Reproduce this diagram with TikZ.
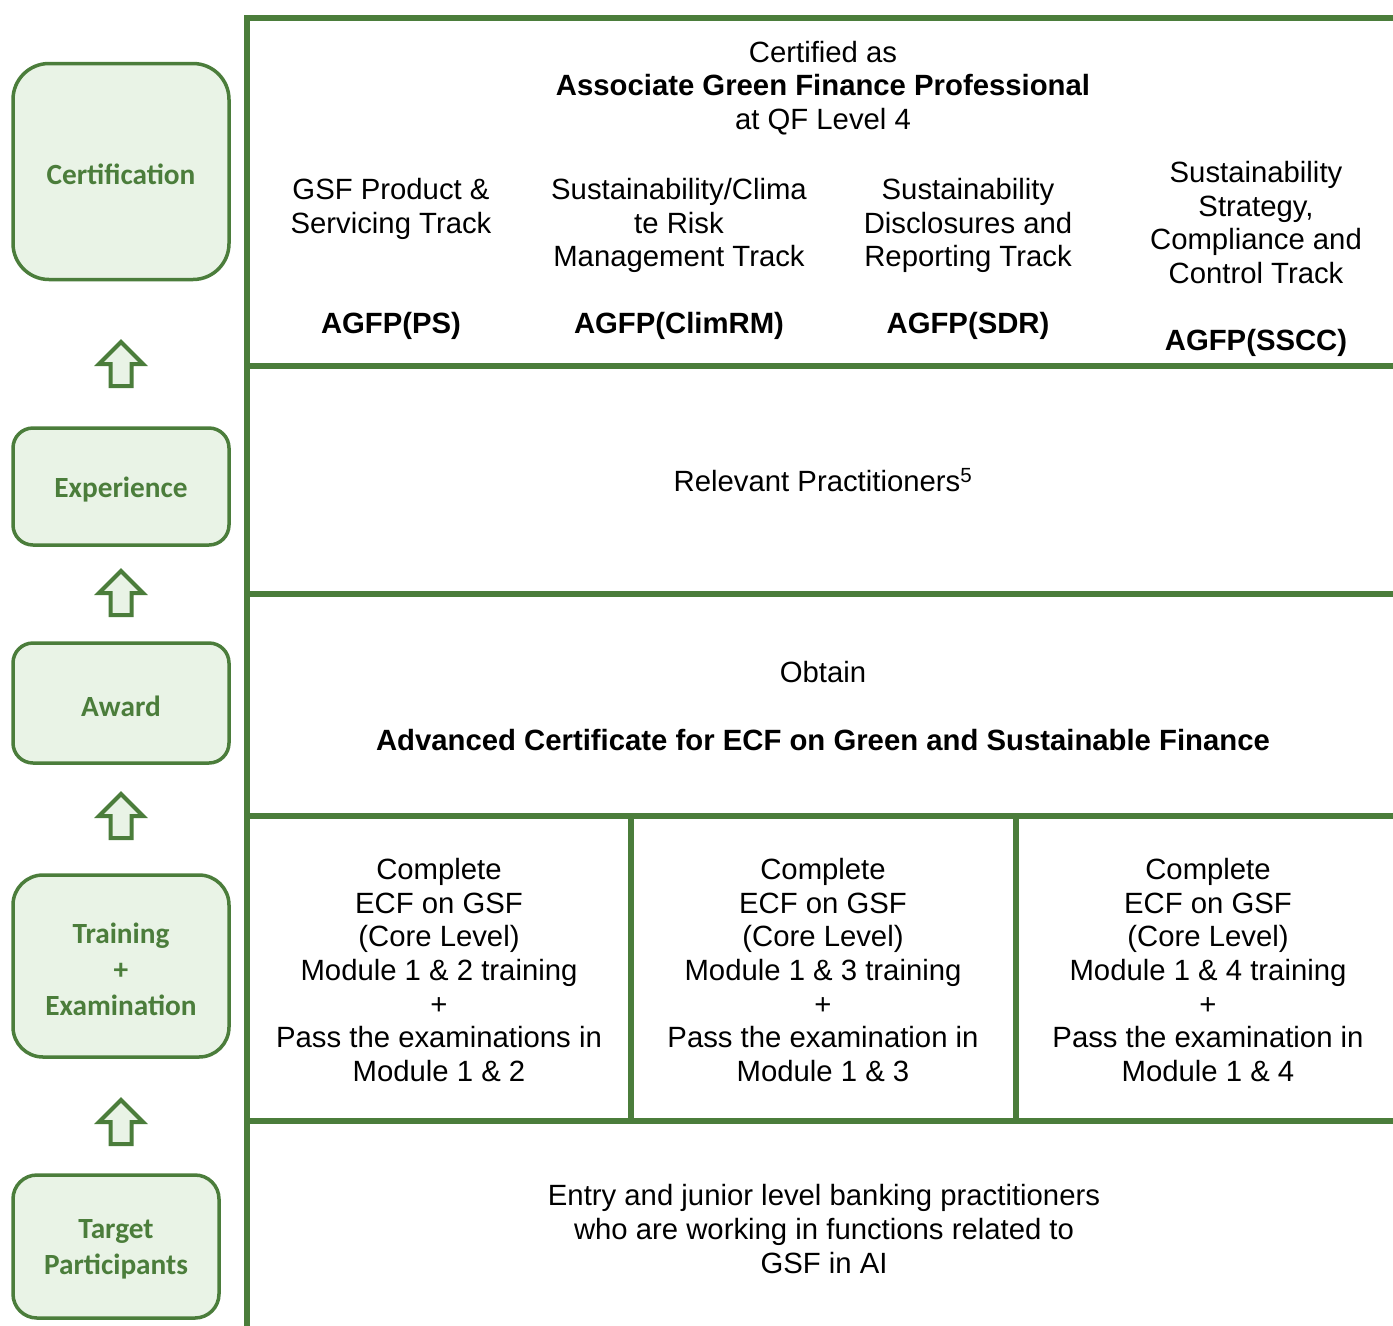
\documentclass[tikz,border=0pt]{standalone}
\usepackage{fontspec}
\setmainfont{Liberation Sans}
\newfontfamily\stagefont{Carlito}
\definecolor{ecfgreen}{RGB}{75,125,59}
\definecolor{ecffill}{RGB}{233,243,230}

\begin{document}
\begin{tikzpicture}[
  x=1pt, y=-1pt,
  grid/.style={draw=ecfgreen, line width=5.5pt},
  stage/.style={draw=ecfgreen, line width=3.5pt, fill=ecffill, inner sep=0pt},
  stagetext/.style={text=ecfgreen, font=\stagefont\bfseries\fontsize{29.3}{36}\selectfont,
    align=center, inner sep=0pt, yshift=-3pt},
  upblock/.style={draw=ecfgreen, line width=4pt, fill=ecffill, line join=miter},
  cell/.style={font=\fontsize{29.3}{33.7}\selectfont, align=center, inner sep=0pt},
  boldcell/.style={cell, font=\bfseries\fontsize{29.3}{33.7}\selectfont},
]
\useasboundingbox (0,0) rectangle (1393,1326);

% table frame
\draw [grid] (247,1326) -- (247,18) -- (1393,18);
\foreach \ly in {366,594,816,1121}
  \draw [grid] (247,\ly) -- (1393,\ly);
\draw [grid] (631,816) -- (631,1121);
\draw [grid] (1016,816) -- (1016,1121);

% certification row
\node [cell] (qf) at (823,88) {Certified as\\\textbf{Associate Green Finance Professional}\\at QF Level 4};
\node [cell, anchor=north] (trps) at (391,178) {GSF Product \&\\Servicing Track};
\node [cell, anchor=north] (trrm) at (679,178) {Sustainability/Clima\\te Risk\\Management Track};
\node [cell, anchor=north] (trsdr) at (968,178) {Sustainability\\Disclosures and\\Reporting Track};
\node [cell, anchor=north] (trsc) at (1256,161) {Sustainability\\Strategy,\\Compliance and\\Control Track};
\node [boldcell] (agps) at (391,326) {AGFP(PS)};
\node [boldcell] (agrm) at (679,326) {AGFP(ClimRM)};
\node [boldcell] (agsdr) at (968,326) {AGFP(SDR)};
\node [boldcell] (agsc) at (1256,343) {AGFP(SSCC)};

% experience and award rows
\node [cell] (relev) at (823,480) {Relevant Practitioners\textsuperscript{5}};
\node [cell] (obtain) at (823,672) {Obtain};
\node [boldcell] (advcert) at (823,740) {Advanced Certificate for ECF on Green and Sustainable Finance};

% training cells
\foreach \cx/\m/\ex [count=\i] in {439/2/examinations, 823/3/examination, 1208/4/examination}
  \node [cell] (mod\i) at (\cx,970) {Complete\\ECF on GSF\\(Core Level)\\Module 1 \& \m\ training\\+\\Pass the \ex\ in\\Module 1 \& \m};

% target row
\node [cell] (entry) at (824,1229) {Entry and junior level banking practitioners\\who are working in functions related to\\GSF in AI};

% stages on the left
\node [stage, rounded corners=36pt, minimum width=216pt, minimum height=216pt] (cert) at (121,171.5) {};
\node [stage, rounded corners=20pt, minimum width=216pt, minimum height=117pt] (expr) at (121,486.5) {};
\node [stage, rounded corners=20pt, minimum width=216pt, minimum height=120pt] (award) at (121,703) {};
\node [stage, rounded corners=30pt, minimum width=216pt, minimum height=182pt] (train) at (121,966) {};
\node [stage, rounded corners=24pt, minimum width=206pt, minimum height=143pt] (target) at (116,1246.5) {};
\node [stagetext] (certlbl) at (cert) {Certification};
\node [stagetext] (exprlbl) at (expr) {Experience};
\node [stagetext] (awardlbl) at (award) {Award};
\node [stagetext] (trainlbl) at (train) {Training\\+\\Examination};
\node [stagetext] (targetlbl) at (target) {Target\\Participants};

% block arrows
\foreach \ty in {342,571,794,1100}
  \draw [upblock] (121,\ty) -- (143,\ty+22) -- (131.5,\ty+22) -- (131.5,\ty+44)
    -- (110.5,\ty+44) -- (110.5,\ty+22) -- (99,\ty+22) -- cycle;
\end{tikzpicture}
\end{document}
